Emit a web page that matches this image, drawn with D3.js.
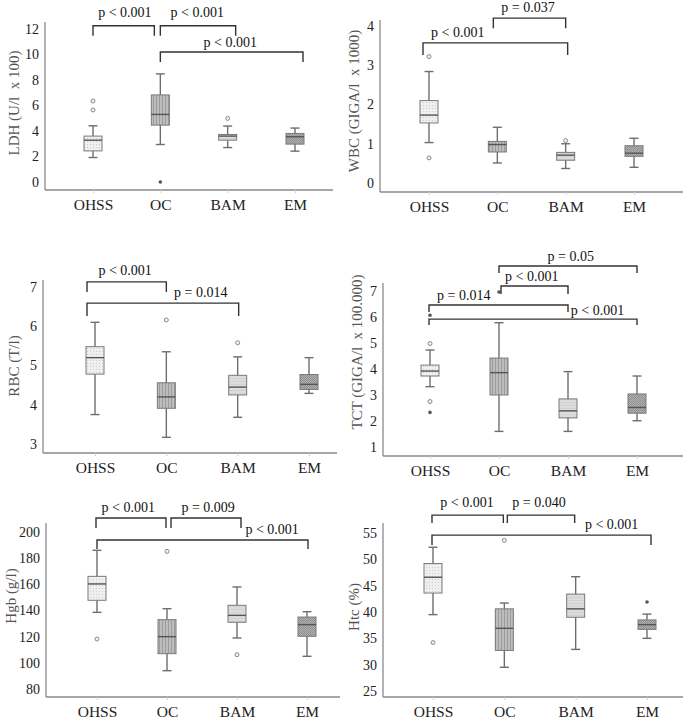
<!DOCTYPE html>
<html>
<head>
<meta charset="utf-8">
<script src="https://cdn.jsdelivr.net/npm/d3@7"></script>
<style>
  body { margin: 0; background: #fff; }
  svg { display: block; font-family: "Liberation Serif", "Times New Roman", serif; }
</style>
</head>
<body>
<div id="chart"></div>
<script>
// groups on every x axis
const groups = ["OHSS", "OC", "BAM", "EM"];

// box stats per group: [lower whisker, q1, median, q3, upper whisker]
const ldhBoxes = [[1.92, 2.44, 3.28, 3.6, 4.41], [2.94, 4.46, 5.3, 6.83, 8.48], [2.7, 3.28, 3.6, 3.73, 4.39], [2.42, 2.97, 3.55, 3.81, 4.23]];
const ldhOutliers = [[5.65, 6.35], [], [4.99], []];
const ldhExtremes = [[], [0], [], []];
const ldhTicks = [0, 2, 4, 6, 8, 10, 12];
const ldhTests = [["OHSS", "OC", "p < 0.001"], ["OC", "BAM", "p < 0.001"], ["OC", "EM", "p < 0.001"]];

const wbcBoxes = [[1.03, 1.53, 1.73, 2.1, 2.84], [0.51, 0.79, 0.98, 1.06, 1.42], [0.37, 0.58, 0.71, 0.78, 1.0], [0.4, 0.68, 0.76, 0.95, 1.14]];
const wbcOutliers = [[0.64, 3.22], [], [1.08], []];
const wbcExtremes = [[], [], [], []];
const wbcTicks = [0, 1, 2, 3, 4];
const wbcTests = [["OHSS", "BAM", "p < 0.001"], ["OC", "BAM", "p = 0.037"]];

const rbcBoxes = [[3.75, 4.78, 5.2, 5.48, 6.1], [3.17, 3.91, 4.2, 4.56, 5.35], [3.68, 4.25, 4.45, 4.75, 5.22], [4.29, 4.39, 4.52, 4.77, 5.2]];
const rbcOutliers = [[], [6.16], [5.58], []];
const rbcExtremes = [[], [], [], []];
const rbcTicks = [3, 4, 5, 6, 7];
const rbcTests = [["OHSS", "OC", "p < 0.001"], ["OHSS", "BAM", "p = 0.014"]];

const tctBoxes = [[3.32, 3.73, 3.92, 4.15, 4.73], [1.6, 3.0, 3.86, 4.42, 5.78], [1.6, 2.12, 2.39, 2.85, 3.9], [2.01, 2.3, 2.52, 3.04, 3.73]];
const tctOutliers = [[2.75, 4.98], [], [], []];
const tctExtremes = [[2.33, 6.07], [6.96], [], []];
const tctTicks = [1, 2, 3, 4, 5, 6, 7];
const tctTests = [["OC", "EM", "p = 0.05"], ["OC", "BAM", "p < 0.001"], ["OHSS", "BAM", "p = 0.014"], ["OHSS", "EM", "p < 0.001"]];

const hgbBoxes = [[138.6, 147.8, 160.3, 166.1, 186], [94, 107, 120, 133, 141.4], [119, 131, 136.3, 144, 158], [105, 120.3, 129.2, 135, 139.1]];
const hgbOutliers = [[118.2], [185.2], [106.2], []];
const hgbExtremes = [[], [], [], []];
const hgbTicks = [80, 100, 120, 140, 160, 180, 200];
const hgbTests = [["OHSS", "OC", "p < 0.001"], ["OC", "BAM", "p = 0.009"], ["OHSS", "EM", "p < 0.001"]];

const htcBoxes = [[39.5, 43.6, 46.6, 49.2, 52.3], [29.5, 32.7, 36.9, 40.6, 41.7], [32.9, 39.0, 40.6, 43.4, 46.7], [35.0, 36.7, 37.6, 38.5, 39.6]];
const htcOutliers = [[34.2], [53.6], [], []];
const htcExtremes = [[], [], [], [41.9]];
const htcTicks = [25, 30, 35, 40, 45, 50, 55];
const htcTests = [["OHSS", "OC", "p < 0.001"], ["OC", "BAM", "p = 0.040"], ["OHSS", "EM", "p < 0.001"]];

// panel placement; bracket level in data units, leg offsets/drop in px, t = label position along bracket
const panels = [
  { title: "LDH (U/l  x 100)", boxes: ldhBoxes, outliers: ldhOutliers, extremes: ldhExtremes, ticks: ldhTicks, tests: ldhTests,
    domain: [0, 12], yr: [182, 29], ax: 45, top: 22, base: 190, right: 333, xr: [93, 295], tx: 14, ty: 103,
    br: [[12.25, 10, 0, -6, 0.52, 9], [12.25, 10, 0, 8, 0.49, 9], [10.2, 10, 0, 8, 0.49, 5]] },
  { title: "WBC (GIGA/l  x 1000)", boxes: wbcBoxes, outliers: wbcOutliers, extremes: wbcExtremes, ticks: wbcTicks, tests: wbcTests,
    domain: [0, 4], yr: [183, 26], ax: 380, top: 20, base: 192, right: 683, xr: [429, 634], tx: 354, ty: 101,
    br: [[3.57, 12, -6, 2, 0.24, 6], [4.2, 10, -4, 0, 0.48, 6]] },
  { title: "RBC (T/l)", boxes: rbcBoxes, outliers: rbcOutliers, extremes: rbcExtremes, ticks: rbcTicks, tests: rbcTests,
    domain: [3, 7], yr: [444, 287], ax: 43, top: 280, base: 453, right: 337, xr: [95, 309], tx: 14, ty: 366,
    br: [[7.13, 10, -8, 0, 0.48, 7], [6.59, 13, -8, 1, 0.75, 6]] },
  { title: "TCT (GIGA/l  x 100.000)", boxes: tctBoxes, outliers: tctOutliers, extremes: tctExtremes, ticks: tctTicks, tests: tctTests,
    domain: [1, 7], yr: [447, 291], ax: 383, top: 283, base: 456, right: 683, xr: [430, 637], tx: 357, ty: 352,
    br: [[7.96, 7, 0, 0, 0.52, 5], [7.19, 8, 2, 0, 0.46, 5], [6.46, 7, -1, 0, 0.25, 5], [5.92, 6, -1, 0, 0.81, 4]] },
  { title: "Hgb (g/l)", boxes: hgbBoxes, outliers: hgbOutliers, extremes: hgbExtremes, ticks: hgbTicks, tests: hgbTests,
    domain: [80, 200], yr: [689, 532], ax: 46, top: 523, base: 697, right: 340, xr: [97, 307], tx: 11, ty: 596,
    br: [[210.7, 10, -1, -1, 0.46, 6], [210.7, 10, 4, 4, 0.53, 6], [193.9, 9, 0, 1, 0.83, 6]] },
  { title: "Htc (%)", boxes: htcBoxes, outliers: htcOutliers, extremes: htcExtremes, ticks: htcTicks, tests: htcTests,
    domain: [25, 55], yr: [691, 533], ax: 383, top: 523, base: 697, right: 683, xr: [433, 647], tx: 354, ty: 607,
    br: [[58.4, 8, -1, -1, 0.49, 8], [58.4, 8, 3, -1, 0.47, 8], [54.6, 10, -1, 4, 0.82, 6]] }
];

const fills = ["url(#pat-ohss)", "url(#pat-oc)", "url(#pat-bam)", "url(#pat-em)"];

const svg = d3.select("#chart").append("svg").attr("width", 685).attr("height", 719);

// box fill textures
const defs = svg.append("defs");
const p1 = defs.append("pattern").attr("id", "pat-ohss").attr("patternUnits", "userSpaceOnUse").attr("width", 3).attr("height", 3);
p1.append("rect").attr("width", 3).attr("height", 3).attr("fill", "#efefef");
p1.append("rect").attr("width", 1).attr("height", 1).attr("fill", "#cdcdcd");
const p2 = defs.append("pattern").attr("id", "pat-oc").attr("patternUnits", "userSpaceOnUse").attr("width", 3).attr("height", 3);
p2.append("rect").attr("width", 3).attr("height", 3).attr("fill", "#bdbdbd");
p2.append("rect").attr("width", 1).attr("height", 3).attr("fill", "#9c9c9c");
const p3 = defs.append("pattern").attr("id", "pat-bam").attr("patternUnits", "userSpaceOnUse").attr("width", 3).attr("height", 3);
p3.append("rect").attr("width", 3).attr("height", 3).attr("fill", "#dcdcdc");
p3.append("rect").attr("width", 3).attr("height", 1).attr("fill", "#d2d2d2");
const p4 = defs.append("pattern").attr("id", "pat-em").attr("patternUnits", "userSpaceOnUse").attr("width", 2).attr("height", 2);
p4.append("rect").attr("width", 2).attr("height", 2).attr("fill", "#b2b2b2");
p4.append("rect").attr("width", 1).attr("height", 1).attr("fill", "#8e8e8e");
p4.append("rect").attr("x", 1).attr("y", 1).attr("width", 1).attr("height", 1).attr("fill", "#8e8e8e");

panels.forEach((p) => {
  const g = svg.append("g");
  const x = d3.scalePoint().domain(groups).range(p.xr);
  const y = d3.scaleLinear().domain(p.domain).range(p.yr);

  // axis lines
  g.append("line").attr("x1", p.ax).attr("x2", p.ax).attr("y1", p.top).attr("y2", p.base)
    .attr("stroke", "#8a8a8a").attr("stroke-width", 1.3);
  g.append("line").attr("x1", p.ax).attr("x2", p.right).attr("y1", p.base).attr("y2", p.base)
    .attr("stroke", "#8a8a8a").attr("stroke-width", 1.3);

  const yAxis = g.append("g").attr("transform", `translate(${p.ax},0)`)
    .call(d3.axisLeft(y).tickValues(p.ticks).tickFormat(d3.format("d")).tickSize(0).tickPadding(6));
  yAxis.select(".domain").remove();
  yAxis.selectAll("text").attr("fill", "#222").style("font-size", "14px").style("font-family", "Liberation Serif, serif");

  const xAxis = g.append("g").attr("transform", `translate(0,${p.base})`)
    .call(d3.axisBottom(x).tickSize(3).tickSizeOuter(0).tickPadding(6));
  xAxis.select(".domain").remove();
  xAxis.selectAll("line").attr("stroke", "#cfcfcf");
  xAxis.selectAll("text").attr("fill", "#222").style("font-size", "15.5px").style("font-family", "Liberation Serif, serif");

  g.append("text").attr("transform", `translate(${p.tx},${p.ty}) rotate(-90)`)
    .attr("text-anchor", "middle").attr("dy", "0.35em")
    .attr("fill", "#555").style("font-size", "15px").style("white-space", "pre")
    .text(p.title);

  // boxes
  const bw = 18, cw = 9;
  groups.forEach((grp, i) => {
    const [lo, q1, med, q3, hi] = p.boxes[i];
    const cx = x(grp);
    g.append("line").attr("x1", cx).attr("x2", cx).attr("y1", y(lo)).attr("y2", y(hi))
      .attr("stroke", "#6e6e6e").attr("stroke-width", 1.4);
    [lo, hi].forEach((v) => {
      g.append("line").attr("x1", cx - cw / 2).attr("x2", cx + cw / 2).attr("y1", y(v)).attr("y2", y(v))
        .attr("stroke", "#6e6e6e").attr("stroke-width", 1.4);
    });
    g.append("rect").attr("x", cx - bw / 2).attr("y", y(q3)).attr("width", bw).attr("height", y(q1) - y(q3))
      .attr("fill", fills[i]).attr("stroke", "#7a7a7a").attr("stroke-width", 1);
    g.append("line").attr("x1", cx - bw / 2).attr("x2", cx + bw / 2).attr("y1", y(med)).attr("y2", y(med))
      .attr("stroke", "#555").attr("stroke-width", 1.4);

    g.selectAll(null).data(p.outliers[i]).enter().append("circle")
      .attr("cx", cx).attr("cy", (d) => y(d)).attr("r", 2)
      .attr("fill", "#f2f2f2").attr("stroke", "#8a8a8a").attr("stroke-width", 1);
    g.selectAll(null).data(p.extremes[i]).enter().append("circle")
      .attr("cx", cx).attr("cy", (d) => y(d)).attr("r", 1.8)
      .attr("fill", "#555");
  });

  // significance brackets
  p.tests.forEach((t, k) => {
    const [lvl, drop, d0, d1, pos, gap] = p.br[k];
    const x0 = x(t[0]) + d0;
    const x1 = x(t[1]) + d1;
    const yy = y(lvl);
    g.append("path")
      .attr("d", `M${x0},${yy + drop}V${yy}H${x1}V${yy + drop}`)
      .attr("fill", "none").attr("stroke", "#333").attr("stroke-width", 1.4);
    g.append("text").attr("x", x0 + (x1 - x0) * pos).attr("y", yy - gap)
      .attr("text-anchor", "middle").attr("fill", "#111").style("font-size", "14px")
      .text(t[2]);
  });
});
</script>
</body>
</html>
